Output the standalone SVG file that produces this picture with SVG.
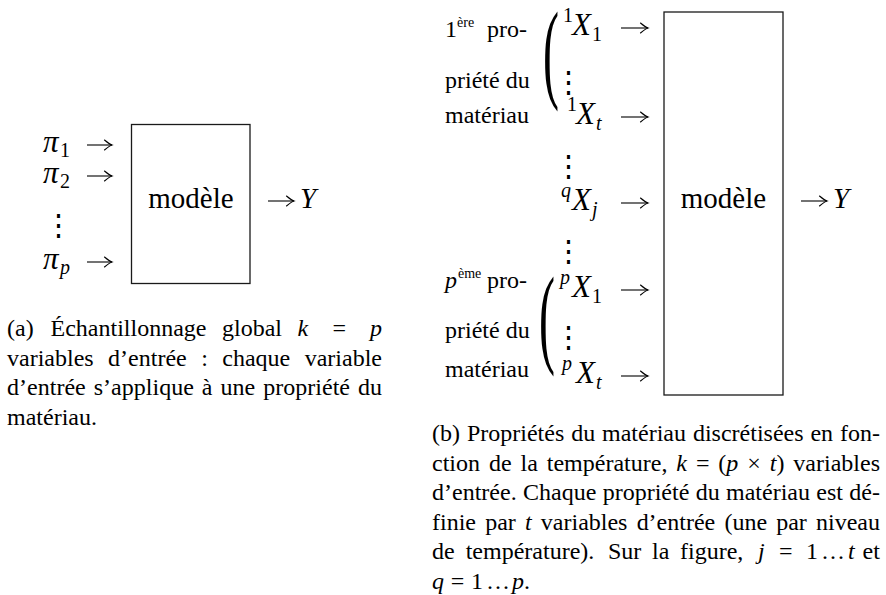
<svg xmlns="http://www.w3.org/2000/svg" width="886" height="595" viewBox="0 0 886 595">
<defs>
<marker id="ah" markerUnits="userSpaceOnUse" markerWidth="14" markerHeight="14" viewBox="-10 -7 14 14" refX="0" refY="0" orient="auto" overflow="visible">
<path d="M-7.5,-5 Q-2.5,-0.8 0,0 Q-2.5,0.8 -7.5,5" fill="none" stroke="#000" stroke-width="1.1" stroke-linecap="round"/>
</marker>
</defs>
<style>
.t{font-family:"Liberation Serif","Times New Roman",serif;fill:#000}
.cap{font-size:24px}
.m{font-size:29px}
.x{font-size:31px}
.mi{font-style:italic}
.up{font-style:normal}
.s{font-size:20px}
.sup{font-size:14px}
.box{fill:none;stroke:#1a1a1a;stroke-width:1.3}
.arr{stroke:#000;stroke-width:1.1;fill:none;marker-end:url(#ah)}
.vd{font-family:"DejaVu Serif",serif;font-size:29px;fill:#000}
</style>
<rect width="886" height="595" fill="#fff"/>

<!-- (a) -->
<g id="model-a">
<rect class="box" x="131.5" y="124.5" width="118.5" height="159"/>
<text class="t m" x="191" y="208" text-anchor="middle">modèle</text>
</g>
<g id="inputs-a">
<text class="t x mi" x="43" y="152">π<tspan class="s up" x="60" y="157">1</tspan></text>
<text class="t x mi" x="43" y="183">π<tspan class="s up" x="60" y="188">2</tspan></text>
<text class="vd" x="58" y="235" text-anchor="middle">⋮</text>
<text class="t x mi" x="43" y="269">π<tspan class="s" x="60" y="274">p</tspan></text>
</g>
<g id="output-a">
<text class="t m mi" x="300" y="208">Y</text>
</g>

<!-- (b) -->
<g id="model-b">
<rect class="box" x="664" y="12" width="119" height="383"/>
<text class="t m" x="723.5" y="208" text-anchor="middle">modèle</text>
</g>
<g id="output-b">
<text class="t m mi" x="833" y="208">Y</text>
</g>
<g id="prop-1">
<text class="t cap" x="445" y="37">1<tspan class="sup" x="457" y="27">ère</tspan></text>
<text class="t cap" x="527" y="37" text-anchor="end">pro-</text>
<text class="t cap" x="445" y="88">priété du</text>
<text class="t cap" x="445" y="123">matériau</text>
<text class="t" font-size="32" transform="translate(543 87.6) scale(1.5 3.45)">(</text>
<text class="t s" x="563" y="22">1</text>
<text class="t x mi" x="572" y="35">X<tspan class="s up" x="592" y="41">1</tspan></text>
<text class="vd" x="568" y="92" text-anchor="middle">⋮</text>
<text class="t s" x="567" y="111">1</text>
<text class="t x mi" x="576" y="124">X<tspan class="s" x="596" y="130">t</tspan></text>
</g>
<g id="row-q">
<text class="vd" x="568" y="176" text-anchor="middle">⋮</text>
<text class="t s mi" x="561" y="197">q</text>
<text class="t x mi" x="572" y="210">X<tspan class="s" x="592" y="216">j</tspan></text>
<text class="vd" x="568" y="261" text-anchor="middle">⋮</text>
</g>
<g id="prop-p">
<text class="t cap mi" x="445" y="288">p<tspan class="sup up" x="458" y="278">ème</tspan></text>
<text class="t cap" x="527" y="288" text-anchor="end">pro-</text>
<text class="t cap" x="445" y="338">priété du</text>
<text class="t cap" x="445" y="377">matériau</text>
<text class="t" font-size="32" transform="translate(539 352.6) scale(1.5 3.45)">(</text>
<text class="t s mi" x="560" y="284">p</text>
<text class="t x mi" x="572" y="297">X<tspan class="s up" x="592" y="303">1</tspan></text>
<text class="vd" x="568" y="347" text-anchor="middle">⋮</text>
<text class="t s mi" x="562" y="370">p</text>
<text class="t x mi" x="576" y="383">X<tspan class="s" x="596" y="389">t</tspan></text>
</g>

<g id="connectors">
<path class="arr" d="M87,145 H112"/>
<path class="arr" d="M87,176 H112"/>
<path class="arr" d="M87,262 H112"/>
<path class="arr" d="M268,201 H294"/>
<path class="arr" d="M621,28 H648"/>
<path class="arr" d="M621,117 H648"/>
<path class="arr" d="M621,203 H648"/>
<path class="arr" d="M621,290 H648"/>
<path class="arr" d="M621,376 H648"/>
<path class="arr" d="M801,201 H827"/>
</g>

<g id="caption-a">
<text class="t cap" y="336"><tspan x="7">(a)</tspan><tspan x="50.5">Échantillonnage</tspan><tspan x="222">global</tspan><tspan class="mi" x="297.5">k</tspan><tspan x="332.4">=</tspan><tspan class="mi" x="370.1">p</tspan></text>
<text class="t cap" x="7" y="365.5" textLength="375" lengthAdjust="spacing" word-spacing="8.4">variables d’entrée : chaque variable</text>
<text class="t cap" x="7" y="395" textLength="375" lengthAdjust="spacing" word-spacing="2">d’entrée s’applique à une propriété du</text>
<text class="t cap" x="7" y="424.5">matériau.</text>
</g>

<g id="caption-b">
<text class="t cap" x="432" y="441" textLength="448" lengthAdjust="spacing" word-spacing="0.9">(b) Propriétés du matériau discrétisées en fon-</text>
<text class="t cap" x="432" y="470.5" textLength="448" lengthAdjust="spacing" word-spacing="2.9">ction de la température, <tspan class="mi">k</tspan> = (<tspan class="mi">p</tspan> × <tspan class="mi">t</tspan>) variables</text>
<text class="t cap" x="432" y="500" textLength="448" lengthAdjust="spacing" word-spacing="0.3">d’entrée. Chaque propriété du matériau est dé-</text>
<text class="t cap" x="432" y="529.5" textLength="448" lengthAdjust="spacing" word-spacing="3.2">finie par <tspan class="mi">t</tspan> variables d’entrée (une par niveau</text>
<text class="t cap" y="559"><tspan x="432">de</tspan><tspan x="465.7">température).</tspan><tspan x="608">Sur</tspan><tspan x="652">la</tspan><tspan x="680">figure,</tspan><tspan class="mi" x="758">j</tspan><tspan x="779">=</tspan><tspan x="806">1</tspan><tspan x="822">.</tspan><tspan x="830">.</tspan><tspan x="838">.</tspan><tspan class="mi" x="848">t</tspan><tspan x="862.5">et</tspan></text>
<text class="t cap" y="588.5"><tspan class="mi" x="432">q</tspan><tspan x="450.7">=</tspan><tspan x="470.9">1</tspan><tspan x="487">.</tspan><tspan x="495">.</tspan><tspan x="503">.</tspan><tspan class="mi" x="512">p</tspan>.</text>
</g>
</svg>
